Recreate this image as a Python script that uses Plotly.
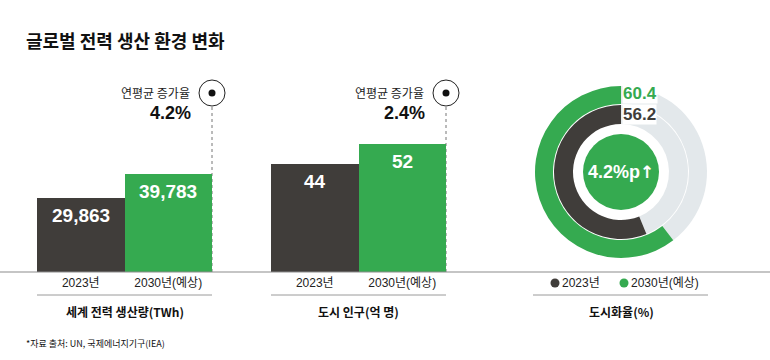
import plotly.graph_objects as go

# ---------------- data ----------------
categories = ["2023년", "2030년(예상)"]
power_twh = [29863, 39783]          # 세계 전력 생산량(TWh)
urban_pop = [44, 52]                # 도시 인구(억 명)
urbanization = [56.2, 60.4]         # 도시화율(%)
cagr_labels = ["4.2%", "2.4%"]
urban_gain = "4.2%p"
title_text = "글로벌 전력 생산 환경 변화"
panel_titles = ["세계 전력 생산량(TWh)", "도시 인구(억 명)", "도시화율(%)"]
source_text = "*자료 출처: UN, 국제에너지기구(IEA)"

# ---------------- style ----------------
W, H = 770, 360
DARK = "#403d3a"
GREEN = "#35aa50"
TRACK = "#e3e8eb"
LINE = "#8c8c8c"
FONT = "Liberation Sans, Noto Sans CJK KR, sans-serif"
KFONT = "Noto Sans CJK KR, Liberation Sans, sans-serif"


def px(x):
    return x / W


def py(y):
    return 1 - y / H


base_y = 272
top_y = 74
bar_colors = [DARK, GREEN]

fig = go.Figure()

fig.add_trace(go.Bar(x=categories, y=power_twh, marker=dict(color=bar_colors, line_width=0),
                     xaxis="x", yaxis="y", hoverinfo="skip", showlegend=False))
fig.add_trace(go.Bar(x=categories, y=urban_pop, marker=dict(color=bar_colors, line_width=0),
                     xaxis="x2", yaxis="y2", hoverinfo="skip", showlegend=False))

# donut rings (remainder first, clockwise -> value slice sweeps counter-clockwise from 12 o'clock)
cx, cy = 621, 172
r_out, r_mid, r_in = 86, 67, 48
fig.add_trace(go.Pie(values=[100 - urbanization[1], urbanization[1]],
                     marker=dict(colors=[TRACK, GREEN], line=dict(width=0)),
                     hole=68 / r_out, sort=False, direction="clockwise", rotation=0,
                     textinfo="none", hoverinfo="skip", showlegend=False,
                     domain=dict(x=[px(cx - r_out), px(cx + r_out)], y=[py(cy + r_out), py(cy - r_out)])))
fig.add_trace(go.Pie(values=[100 - urbanization[0], urbanization[0]],
                     marker=dict(colors=[TRACK, DARK], line=dict(width=0)),
                     hole=r_in / r_mid, sort=False, direction="clockwise", rotation=0,
                     textinfo="none", hoverinfo="skip", showlegend=False,
                     domain=dict(x=[px(cx - r_mid), px(cx + r_mid)], y=[py(cy + r_mid), py(cy - r_mid)])))

axis_common = dict(showgrid=False, zeroline=False, showline=False, ticks="", range=[-0.5, 1.5],
                   autorange=False, ticklabelstandoff=2,
                   tickfont=dict(family=FONT, size=12, color="#222"), fixedrange=True)
yaxis_common = dict(visible=False, fixedrange=True, domain=[py(base_y), py(top_y)], autorange=False)

fig.update_layout(
    width=W, height=H, margin=dict(l=0, r=0, t=0, b=0),
    paper_bgcolor="white", plot_bgcolor="rgba(0,0,0,0)",
    bargap=0,
    xaxis=dict(domain=[px(37), px(212)], anchor="y", **axis_common),
    yaxis=dict(range=[0, 80380], anchor="x", **yaxis_common),
    xaxis2=dict(domain=[px(271), px(446)], anchor="y2", **axis_common),
    yaxis2=dict(range=[0, 80.4], anchor="x2", **yaxis_common),
)

shapes = []
ann = []

# baseline
shapes.append(dict(type="line", xref="paper", yref="paper", x0=0, x1=1, y0=py(base_y), y1=py(base_y),
                   line=dict(color=LINE, width=1.2), layer="above"))

panels = [("x", "y", power_twh, 37, 212, "{:,}"), ("x2", "y2", urban_pop, 271, 446, "{}")]
for i, (xr, yr, vals, xl, xrgt, fmt) in enumerate(panels):
    # under-label line
    shapes.append(dict(type="line", xref="paper", yref="paper", x0=px(xl), x1=px(xrgt),
                       y0=py(295), y1=py(295), line=dict(color="#9a9a9a", width=1)))
    # dotted guide from baseline to marker (behind bars), at the right edge of the 2nd bar
    shapes.append(dict(type="line", xref="paper", yref="paper", x0=px(xrgt), x1=px(xrgt),
                       y0=py(base_y), y1=py(106), line=dict(color="#777", width=1, dash="dot"),
                       layer="below"))
    # marker circle
    shapes.append(dict(type="circle", xref="paper", yref="paper", xsizemode="pixel", ysizemode="pixel",
                       xanchor=px(xrgt), yanchor=py(93), x0=-13, x1=13, y0=-13, y1=13,
                       line=dict(color="#222", width=1), fillcolor="white"))
    shapes.append(dict(type="circle", xref="paper", yref="paper", xsizemode="pixel", ysizemode="pixel",
                       xanchor=px(xrgt), yanchor=py(93), x0=-3.5, x1=3.5, y0=-3.5, y1=3.5,
                       line=dict(width=0), fillcolor="#111"))
    # value labels in bars
    for j, v in enumerate(vals):
        ann.append(dict(xref=xr, yref=yr, x=j, y=v, yshift=-5, yanchor="top", xanchor="center",
                        text=fmt.format(v), showarrow=False,
                        font=dict(family=FONT, size=19, color="white", weight="bold")))
    # CAGR
    ann.append(dict(xref="paper", yref="paper", x=px(xrgt), xshift=-20, y=py(93), xanchor="right",
                    yanchor="middle", text="연평균 증가율", showarrow=False,
                    font=dict(family=KFONT, size=12, color="#222")))
    ann.append(dict(xref="paper", yref="paper", x=px(xrgt), xshift=-19, y=py(113), xanchor="right",
                    yanchor="middle", text=cagr_labels[i], showarrow=False,
                    font=dict(family=FONT, size=18, color="#111", weight="bold")))
    # panel title
    ann.append(dict(xref="paper", yref="paper", x=px((xl + xrgt) / 2), y=py(311), xanchor="center",
                    yanchor="middle", text=panel_titles[i], showarrow=False,
                    font=dict(family=KFONT, size=12, color="#111", weight="bold")))

# donut center circle
shapes.append(dict(type="circle", xref="paper", yref="paper", x0=px(cx - 38), x1=px(cx + 38),
                   y0=py(cy + 38), y1=py(cy - 38), fillcolor=GREEN, line=dict(width=0)))
ann.append(dict(xref="paper", yref="paper", x=px(cx), y=py(cy), xanchor="center", yanchor="middle",
                text=urban_gain + "<span style='font-family:DejaVu Sans;font-size:17px'>↑</span>",
                showarrow=False, font=dict(family=FONT, size=18, color="white", weight="bold")))
ann.append(dict(xref="paper", yref="paper", x=px(622), y=py(94), xanchor="left", yanchor="middle",
                text=f"{urbanization[1]}", showarrow=False, bgcolor="white", borderpad=0,
                font=dict(family=FONT, size=17, color=GREEN, weight="bold")))
ann.append(dict(xref="paper", yref="paper", x=px(622), y=py(114), xanchor="left", yanchor="middle",
                text=f"{urbanization[0]}", showarrow=False, bgcolor="white", borderpad=0,
                font=dict(family=FONT, size=17, color=DARK, weight="bold")))
# donut legend
for k, (lx, col) in enumerate([(555, DARK), (624, GREEN)]):
    shapes.append(dict(type="circle", xref="paper", yref="paper", x0=px(lx - 4.5), x1=px(lx + 4.5),
                       y0=py(283 + 4.5), y1=py(283 - 4.5), fillcolor=col, line=dict(width=0)))
    ann.append(dict(xref="paper", yref="paper", x=px(lx + 5), y=py(283), xanchor="left", yanchor="middle",
                    text=categories[k], showarrow=False, font=dict(family=FONT, size=12, color="#222")))
shapes.append(dict(type="line", xref="paper", yref="paper", x0=px(533), x1=px(708),
                   y0=py(295), y1=py(295), line=dict(color="#9a9a9a", width=1)))
ann.append(dict(xref="paper", yref="paper", x=px(cx), y=py(311), xanchor="center", yanchor="middle",
                text=panel_titles[2], showarrow=False,
                font=dict(family=KFONT, size=12, color="#111", weight="bold")))

# title and source
ann.append(dict(xref="paper", yref="paper", x=px(24), y=py(40), xanchor="left", yanchor="middle",
                text=title_text, showarrow=False, font=dict(family=KFONT, size=18, color="#111", weight="bold")))
ann.append(dict(xref="paper", yref="paper", x=px(24), y=py(343), xanchor="left", yanchor="middle",
                text=source_text, showarrow=False, font=dict(family=KFONT, size=9, color="#111")))

fig.update_layout(shapes=shapes, annotations=ann)
fig.write_html("out.html", config={"displayModeBar": False},
               post_script="document.body.style.margin='0';")
